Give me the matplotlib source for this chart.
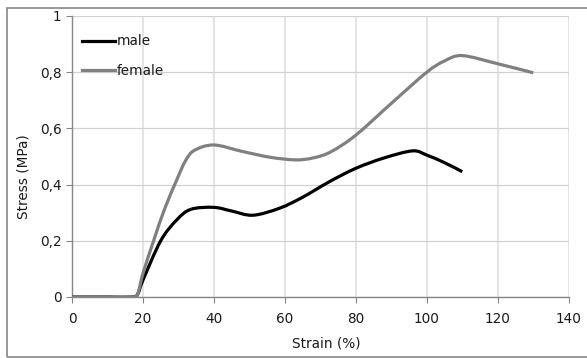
"""Stress-strain curves, male vs female, Excel-style smoothed lines."""

import numpy as np
import matplotlib
matplotlib.use("Agg")
import matplotlib.pyplot as plt
from matplotlib.path import Path
from matplotlib.patches import PathPatch, Rectangle
from matplotlib.lines import Line2D
from matplotlib.ticker import FuncFormatter, MultipleLocator

# values
male_strain = [0, 10, 17, 18.5, 20, 25, 29.5, 33.5, 40, 45, 51, 58.5, 65, 72.5, 80, 88, 96, 100, 105, 110]
male_stress = [0, 0, 0, 0.01, 0.06, 0.2, 0.274, 0.312, 0.319, 0.306, 0.291, 0.316, 0.355, 0.41, 0.458, 0.495,
               0.52, 0.505, 0.478, 0.446]
female_strain = [0, 10, 17, 18.5, 20, 23, 26, 29.5, 32, 34.5, 40, 48, 56, 63, 68, 73, 80, 90, 100, 105, 110, 120, 130]
female_stress = [0, 0, 0, 0.01, 0.084, 0.2, 0.31, 0.416, 0.485, 0.522, 0.541, 0.518, 0.497, 0.488, 0.495, 0.517,
                 0.576, 0.689, 0.8, 0.84, 0.859, 0.83, 0.798]
series_labels = ["male", "female"]
series_colors = ["#000000", "#808080"]

FS = 9.8
plt.rcParams["font.family"] = ["DejaVu Sans"]
plt.rcParams["font.size"] = FS


def smooth_path(x, y):
    # Catmull-Rom through the points, as cubic Bezier segments
    pts = np.column_stack([x, y]).astype(float)
    n = len(pts)
    verts, codes = [pts[0]], [Path.MOVETO]
    for i in range(n - 1):
        p0, p1 = pts[max(i - 1, 0)], pts[i]
        p2, p3 = pts[i + 1], pts[min(i + 2, n - 1)]
        verts += [p1 + (p2 - p0) / 6, p2 - (p3 - p1) / 6, p2]
        codes += [Path.CURVE4] * 3
    return Path(verts, codes)


fig = plt.figure(figsize=(5.87, 3.58), dpi=100)
ax = fig.add_axes([72 / 587, 1 - 297 / 358, 496.7 / 587, 281 / 358])

for xs, ys, c in [(male_strain, male_stress, series_colors[0]), (female_strain, female_stress, series_colors[1])]:
    ax.add_patch(PathPatch(smooth_path(xs, ys), fill=False, edgecolor=c, lw=2.3,
                           capstyle="butt", joinstyle="round", zorder=3))

ax.set_xlim(0, 140)
ax.set_ylim(0, 1)
ax.xaxis.set_major_locator(MultipleLocator(20))
ax.yaxis.set_major_locator(MultipleLocator(0.2))
ax.yaxis.set_major_formatter(FuncFormatter(lambda v, p: f"{v:g}".replace(".", ",")))
ax.grid(True, axis="y", color="#d0d0d0", lw=0.9)
ax.grid(True, axis="x", color="#dcdcdc", lw=1.1)
ax.set_axisbelow(True)
for s in ["top", "right"]:
    ax.spines[s].set_visible(False)
for s in ["left", "bottom"]:
    ax.spines[s].set_color("#868686")
    ax.spines[s].set_linewidth(1.0)
ax.tick_params(direction="out", length=4, width=0.8, color="#868686", labelcolor="#1a1a1a", labelsize=FS)
ax.tick_params(axis="x", pad=7)
ax.set_xlabel("Strain (%)", color="#1a1a1a")
ax.set_ylabel("Stress (MPa)", color="#1a1a1a")
ax.xaxis.set_label_coords(0.513, -0.14)
ax.yaxis.set_label_coords(-0.083, 0.43)

handles = [Line2D([], [], color=c, lw=2.3) for c in series_colors]
ax.legend(handles, series_labels, loc="upper left", bbox_to_anchor=(0.02, 0.935), frameon=False,
          borderpad=0, borderaxespad=0, handlelength=2.45, handletextpad=0.1, labelspacing=1.15,
          labelcolor="#1a1a1a", fontsize=FS)

# chart area border (Excel-like)
fig.patches.append(Rectangle((7 / 587, 1 / 358), 1.2, 1 - 7.5 / 358 - 1 / 358, transform=fig.transFigure,
                             fill=False, edgecolor="#868686", lw=1.2))

fig.savefig("out.png", dpi=100)
